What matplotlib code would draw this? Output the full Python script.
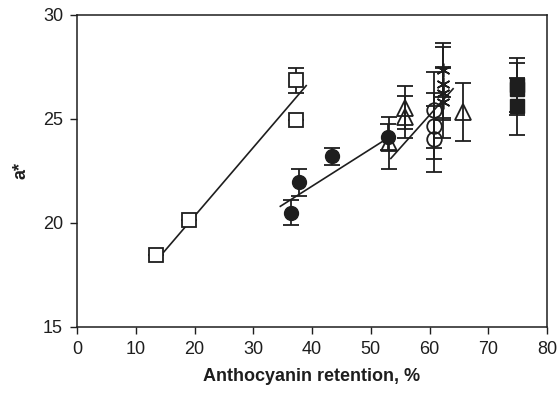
import matplotlib
matplotlib.use("Agg")
import matplotlib.pyplot as plt

plt.rcParams["font.family"] = ["Liberation Sans", "DejaVu Sans"]

# open squares
sq_x = [13.4, 19.0, 37.3, 37.3]
sq_y = [18.46, 20.15, 24.95, 26.85]
sq_e = [0.0, 0.0, 0.0, 0.62]

# filled circles
fc_x = [36.4, 37.8, 43.4, 52.9]
fc_y = [20.5, 21.95, 23.2, 24.15]
fc_e = [0.62, 0.65, 0.4, 0.62]

# open triangles
tr_x = [53.1, 55.8, 55.8, 65.7]
tr_y = [23.85, 25.1, 25.55, 25.35]
tr_e = [1.25, 1.0, 1.05, 1.4]

# open circles
oc_x = [60.8, 60.8, 60.8]
oc_y = [25.43, 24.66, 24.04]
oc_e = [1.85, 1.6, 1.6]

# asterisks
st_x = [62.3, 62.3, 62.3, 62.3]
st_y = [27.35, 26.7, 26.25, 25.8]
st_e = [1.3, 1.75, 1.2, 1.7]

# filled squares
fs_x = [74.8, 74.8, 74.8]
fs_y = [26.65, 26.45, 25.6]
fs_e = [1.3, 1.25, 1.35]

# regression lines (end points)
fit1_x = [13.7, 39.0]
fit1_y = [18.25, 26.6]
fit2_x = [34.6, 53.0]
fit2_y = [20.8, 24.1]
fit3_x = [53.4, 64.0]
fit3_y = [23.1, 26.45]

xticks = [0, 10, 20, 30, 40, 50, 60, 70, 80]
yticks = [15, 20, 25, 30]

fig = plt.figure(figsize=(5.6, 3.93), dpi=100)
ax = fig.add_axes([0.1375, 0.168, 0.8395, 0.794])

k = "#1e1e1e"
eb = dict(fmt="none", ecolor=k, elinewidth=1.3, capsize=5.5, capthick=1.3, zorder=2)

for xs, ys, es in [(sq_x, sq_y, sq_e), (fc_x, fc_y, fc_e), (tr_x, tr_y, tr_e),
                   (oc_x, oc_y, oc_e), (st_x, st_y, st_e), (fs_x, fs_y, fs_e)]:
    ax.errorbar(xs, ys, yerr=es, **eb)

for fx, fy in [(fit1_x, fit1_y), (fit2_x, fit2_y), (fit3_x, fit3_y)]:
    ax.plot(fx, fy, color=k, lw=1.2, zorder=3)

ax.plot(sq_x, sq_y, "s", ms=9.5, mfc="white", mec=k, mew=1.3, ls="none", zorder=4)
ax.plot(fc_x, fc_y, "o", ms=10, mfc=k, mec=k, ls="none", zorder=4)
ax.plot(tr_x, tr_y, "^", ms=11, mfc="none", mec=k, mew=1.3, ls="none", zorder=4)
ax.plot(oc_x, oc_y, "o", ms=10.5, mfc="none", mec=k, mew=1.3, ls="none", zorder=4)
ax.plot(st_x, st_y, marker=(6, 2, 0), ms=10, mec=k, mew=1.2, ls="none", zorder=4)
ax.plot(fs_x, fs_y, "s", ms=9.5, mfc=k, mec=k, ls="none", zorder=4)

ax.set_xlim(0, 80)
ax.set_ylim(15, 30)
ax.set_xticks(xticks)
ax.set_yticks(yticks)
ax.tick_params(direction="out", length=5, width=1, labelsize=13, pad=5, colors=k)
for s in ax.spines.values():
    s.set_linewidth(1.1)
    s.set_color(k)

ax.set_xlabel("Anthocyanin retention, %", fontsize=13, fontweight="bold", color=k, labelpad=7)
ax.set_ylabel("a*", fontsize=13, fontweight="bold", color=k, labelpad=10)

fig.savefig("out.png", dpi=100)
